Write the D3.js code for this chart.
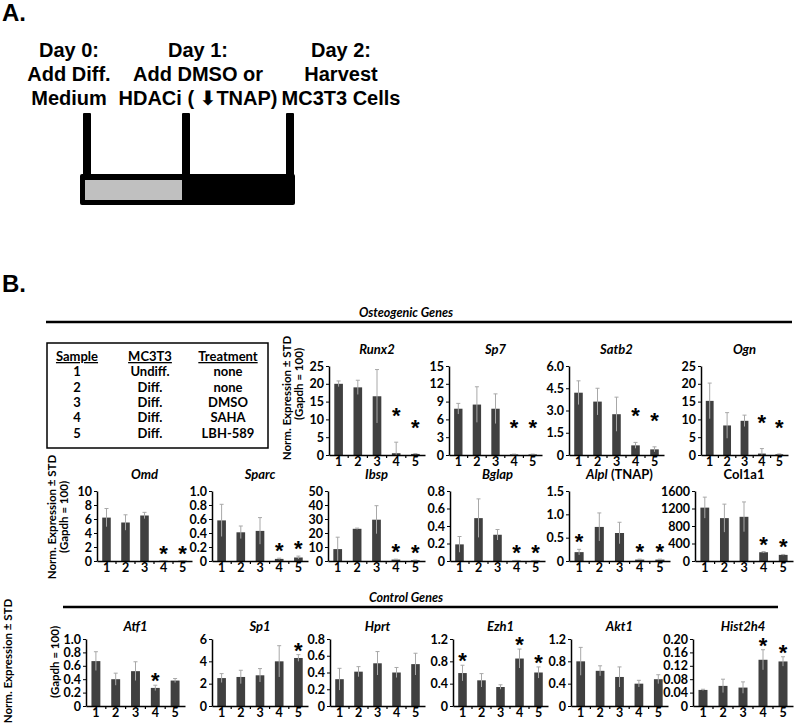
<!DOCTYPE html>
<html>
<head>
<meta charset="utf-8">
<script src="https://cdn.jsdelivr.net/npm/d3@7/dist/d3.min.js"></script>
<style>
  body { margin: 0; background: #fff; }
  text { font-family: Lato, "Open Sans", sans-serif; }
</style>
</head>
<body>
<div id="chart"></div>
<script>
// ---- data ----
const samples = ["1", "2", "3", "4", "5"];

const runx2 = [20, 19, 16.5, 0.5, 0.3],        runx2Sd = [0.8, 2, 7.5, 3.1, 0.1];
const sp7 = [7.8, 8.5, 7.8, 0.1, 0.1],         sp7Sd = [0.9, 3.0, 2.5, 0.05, 0.05];
const satb2 = [4.2, 3.6, 2.75, 0.65, 0.38],    satb2Sd = [0.8, 0.9, 1.15, 0.2, 0.17];
const ogn = [15.2, 8.3, 9.6, 0.4, 0.2],        ognSd = [5.0, 3.6, 1.6, 1.4, 0.1];
const omd = [6.2, 5.5, 6.5, 0.05, 0.05],       omdSd = [1.3, 1.1, 0.45, 0.02, 0.02];
const sparc = [0.58, 0.41, 0.43, 0.03, 0.05],  sparcSd = [0.23, 0.09, 0.19, 0.01, 0.02];
const ibsp = [8.5, 23, 29.5, 1.0, 0.5],        ibspSd = [8.5, 0.5, 10, 0.3, 0.2];
const bglap = [0.19, 0.49, 0.30, 0.005, 0.005], bglapSd = [0.09, 0.22, 0.06, 0.002, 0.002];
const alpl = [0.19, 0.73, 0.60, 0.03, 0.03],   alplSd = [0.06, 0.30, 0.23, 0.01, 0.01];
const col1a1 = [1220, 980, 1010, 200, 140],    col1a1Sd = [240, 320, 340, 15, 10];
const atf1 = [0.67, 0.40, 0.52, 0.27, 0.38],   atf1Sd = [0.14, 0.09, 0.14, 0.04, 0.03];
const sp1 = [2.5, 2.6, 2.75, 4.0, 4.3],        sp1Sd = [0.4, 0.6, 0.6, 1.4, 0.3];
const hprt = [0.32, 0.41, 0.51, 0.40, 0.50],   hprtSd = [0.13, 0.06, 0.14, 0.06, 0.13];
const ezh1 = [0.59, 0.46, 0.34, 0.85, 0.60],   ezh1Sd = [0.14, 0.12, 0.04, 0.17, 0.10];
const akt1 = [0.80, 0.63, 0.52, 0.40, 0.48],   akt1Sd = [0.25, 0.09, 0.18, 0.06, 0.08];
const hist2h4 = [0.048, 0.06, 0.055, 0.138, 0.133], hist2h4Sd = [0.002, 0.02, 0.017, 0.03, 0.014];

// y tick values per panel
const runx2Ticks = [0, 5, 10, 15, 20, 25];
const sp7Ticks = [0, 3, 6, 9, 12, 15];
const satb2Ticks = [0, 1.5, 3.0, 4.5, 6.0];
const ognTicks = [0, 5, 10, 15, 20, 25];
const omdTicks = [0, 2, 4, 6, 8, 10];
const sparcTicks = [0, 0.2, 0.4, 0.6, 0.8, 1.0];
const ibspTicks = [0, 10, 20, 30, 40, 50];
const bglapTicks = [0, 0.2, 0.4, 0.6, 0.8];
const alplTicks = [0, 0.5, 1.0, 1.5];
const col1a1Ticks = [0, 400, 800, 1200, 1600];
const atf1Ticks = [0, 0.2, 0.4, 0.6, 0.8, 1.0];
const sp1Ticks = [0, 2, 4, 6];
const hprtTicks = [0, 0.2, 0.4, 0.6, 0.8];
const ezh1Ticks = [0, 0.4, 0.8, 1.2];
const akt1Ticks = [0, 0.4, 0.8, 1.2];
const hist2h4Ticks = [0, 0.04, 0.08, 0.12, 0.16, 0.20];

// significant samples (index)
const runx2Stars = [3, 4], sp7Stars = [3, 4], satb2Stars = [3, 4], ognStars = [3, 4];
const omdStars = [3, 4], sparcStars = [3, 4], ibspStars = [3, 4], bglapStars = [3, 4];
const alplStars = [0, 3, 4], col1a1Stars = [3, 4];
const atf1Stars = [3], sp1Stars = [4], hprtStars = [], ezh1Stars = [0, 3, 4];
const akt1Stars = [], hist2h4Stars = [3, 4];

const tableHead = ["Sample", "MC3T3", "Treatment"];
const tableMC3T3 = ["Undiff.", "Diff.", "Diff.", "Diff.", "Diff."];
const tableTreatment = ["none", "none", "DMSO", "SAHA", "LBH-589"];

// ---- layout ----
const W = 800, H = 723;
const svg = d3.select("#chart").append("svg")
  .attr("width", W)
  .attr("height", H);

// rows of panels
const rows = [
  { top: 366, base: 455, titleY: 354, starOff: 31, labelX: [287, 299], labelY: [398, 384],
    panels: [
      { title: "Runx2", mean: runx2, sd: runx2Sd, ticks: runx2Ticks, stars: runx2Stars, x0: 329, x1: 425 },
      { title: "Sp7", mean: sp7, sd: sp7Sd, ticks: sp7Ticks, stars: sp7Stars, x0: 449, x1: 542 },
      { title: "Satb2", mean: satb2, sd: satb2Sd, ticks: satb2Ticks, stars: satb2Stars, x0: 569, x1: 664 },
      { title: "Ogn", mean: ogn, sd: ognSd, ticks: ognTicks, stars: ognStars, x0: 701, x1: 788 }
    ] },
  { top: 491, base: 561, titleY: 479, starOff: 12, labelX: [52, 64], labelY: [517, 517],
    panels: [
      { title: "Omd", mean: omd, sd: omdSd, ticks: omdTicks, stars: omdStars, x0: 97, x1: 192 },
      { title: "Sparc", mean: sparc, sd: sparcSd, ticks: sparcTicks, stars: sparcStars, x0: 212, x1: 308 },
      { title: "Ibsp", mean: ibsp, sd: ibspSd, ticks: ibspTicks, stars: ibspStars, x0: 328, x1: 425 },
      { title: "Bglap", mean: bglap, sd: bglapSd, ticks: bglapTicks, stars: bglapStars, x0: 450, x1: 545 },
      { title: "Alpl", extra: " (TNAP)", mean: alpl, sd: alplSd, ticks: alplTicks, stars: alplStars, x0: 569, x1: 670 },
      { title: "Col1a1", upright: true, mean: col1a1, sd: col1a1Sd, ticks: col1a1Ticks, stars: col1a1Stars, x0: 695, x1: 793 }
    ] },
  { top: 639, base: 706, titleY: 631, starOff: 9, labelX: [8, 55], labelY: [661, 662],
    panels: [
      { title: "Atf1", mean: atf1, sd: atf1Sd, ticks: atf1Ticks, stars: atf1Stars, x0: 86, x1: 185 },
      { title: "Sp1", mean: sp1, sd: sp1Sd, ticks: sp1Ticks, stars: sp1Stars, x0: 212, x1: 308 },
      { title: "Hprt", mean: hprt, sd: hprtSd, ticks: hprtTicks, stars: hprtStars, x0: 330, x1: 425 },
      { title: "Ezh1", mean: ezh1, sd: ezh1Sd, ticks: ezh1Ticks, stars: ezh1Stars, x0: 453, x1: 548 },
      { title: "Akt1", mean: akt1, sd: akt1Sd, ticks: akt1Ticks, stars: akt1Stars, x0: 571, x1: 668 },
      { title: "Hist2h4", mean: hist2h4, sd: hist2h4Sd, ticks: hist2h4Ticks, stars: hist2h4Stars, x0: 693, x1: 793 }
    ] }
];

// ---- panel A ----
const gA = svg.append("g");
gA.append("text").attr("x", 2).attr("y", 21)
  .style("font-family", "'Liberation Sans', Arial, sans-serif")
  .attr("font-size", 24).attr("font-weight", "bold").text("A.");

const dayCols = [
  { x: 69, lines: ["Day 0:", "Add Diff.", "Medium"] },
  { x: 198, lines: ["Day 1:", "Add DMSO or", null] },
  { x: 341, lines: ["Day 2:", "Harvest", "MC3T3 Cells"] }
];
const dayY = [57, 81, 105];
dayCols.forEach(c => {
  c.lines.forEach((l, i) => {
    const t = gA.append("text")
      .attr("x", c.x).attr("y", dayY[i])
      .attr("text-anchor", "middle")
      .style("font-family", "'Liberation Sans', Arial, sans-serif")
      .attr("font-size", 20).attr("font-weight", "bold");
    if (l) t.text(l);
    else {
      t.append("tspan").text("HDACi ( ");
      t.append("tspan").style("font-family", "'DejaVu Sans'").text("\u2B07");
      t.append("tspan").text("TNAP)");
    }
  });
});

// timeline box
gA.append("rect").attr("x", 80).attr("y", 174).attr("width", 215).attr("height", 31)
  .attr("rx", 2).attr("fill", "#000");
gA.append("rect").attr("x", 85).attr("y", 180).attr("width", 97).attr("height", 20)
  .attr("fill", "#c0c0c0");
[87, 186, 290].forEach(x => {
  gA.append("rect").attr("x", x - 4).attr("y", 113).attr("width", 8).attr("height", 64)
    .attr("rx", 1).attr("fill", "#000");
});

// ---- panel B ----
svg.append("text").attr("x", 2).attr("y", 292)
  .style("font-family", "'Liberation Sans', Arial, sans-serif")
  .attr("font-size", 24).attr("font-weight", "bold").text("B.");

function sectionHeader(label, y, x0, x1) {
  svg.append("line").attr("x1", x0).attr("x2", x1).attr("y1", y).attr("y2", y)
    .attr("stroke", "#000").attr("stroke-width", 2.5);
  svg.append("text").attr("x", 406).attr("y", y - 5).attr("text-anchor", "middle")
    .attr("font-size", 12.5).attr("font-weight", "bold").attr("font-style", "italic")
    .text(label);
}
sectionHeader("Osteogenic Genes", 322, 46, 792);
sectionHeader("Control Genes", 607, 63, 778);

// sample table
const tb = svg.append("g");
tb.append("rect").attr("x", 47).attr("y", 343).attr("width", 221).attr("height", 105)
  .attr("fill", "none").attr("stroke", "#000").attr("stroke-width", 1.5);
const colX = [77, 150, 228];
const rowY = [361, 376, 392, 407, 422, 438];
tableHead.forEach((h, i) => {
  tb.append("text").attr("x", colX[i]).attr("y", rowY[0]).attr("text-anchor", "middle")
    .attr("font-size", 13).attr("font-weight", "bold")
    .attr("text-decoration", "underline").text(h);
});
samples.forEach((s, i) => {
  [s, tableMC3T3[i], tableTreatment[i]].forEach((v, j) => {
    tb.append("text").attr("x", colX[j]).attr("y", rowY[i + 1]).attr("text-anchor", "middle")
      .attr("font-size", 13).attr("font-weight", "bold").text(v);
  });
});

// bar panels
function fmtFor(ticks) {
  const step = ticks[1] - ticks[0];
  const dec = step >= 1 && Number.isInteger(step) && ticks.every(Number.isInteger) ? 0
    : Math.max(1, Math.ceil(-Math.log10(step) - 1e-9));
  return v => v === 0 ? "0" : v.toFixed(dec);
}

rows.forEach(row => {
  // y axis label
  ["Norm. Expression \u00B1 STD", "(Gapdh = 100)"].forEach((t, i) => {
    svg.append("text")
      .attr("transform", `translate(${row.labelX[i] + 4},${row.labelY[i]}) rotate(-90)`)
      .attr("text-anchor", "middle")
      .attr("font-size", 11.5).attr("font-weight", "bold").text(t);
  });

  row.panels.forEach(p => {
    const g = svg.append("g");
    const x = d3.scaleBand().domain(samples).range([p.x0, p.x1])
      .paddingInner(0.55).paddingOuter(0.275);
    const y = d3.scaleLinear().domain([0, p.ticks[p.ticks.length - 1]]).range([row.base, row.top]);

    // bars
    g.selectAll("rect.bar").data(p.mean).join("rect")
      .attr("class", "bar")
      .attr("x", (d, i) => x(samples[i]))
      .attr("width", x.bandwidth())
      .attr("y", d => y(d))
      .attr("height", d => row.base - y(d))
      .attr("fill", "#404040");

    // error bars
    const eb = g.selectAll("g.err").data(p.mean).join("g").attr("class", "err")
      .attr("stroke", "#a8a8a8").attr("stroke-width", 1);
    eb.append("line")
      .attr("x1", (d, i) => x(samples[i]) + x.bandwidth() / 2)
      .attr("x2", (d, i) => x(samples[i]) + x.bandwidth() / 2)
      .attr("y1", (d, i) => y(Math.max(0, d - p.sd[i])))
      .attr("y2", (d, i) => y(d + p.sd[i]));
    eb.append("line")
      .attr("x1", (d, i) => x(samples[i]) + x.bandwidth() / 2 - 2)
      .attr("x2", (d, i) => x(samples[i]) + x.bandwidth() / 2 + 2)
      .attr("y1", (d, i) => y(d + p.sd[i]))
      .attr("y2", (d, i) => y(d + p.sd[i]));

    // stars
    g.selectAll("text.star").data(p.stars).join("text")
      .attr("class", "star")
      .attr("x", i => x(samples[i]) + x.bandwidth() / 2)
      .attr("y", i => y(p.mean[i] + p.sd[i]) - row.starOff + 12)
      .attr("text-anchor", "middle")
      .style("font-family", "'Liberation Sans', Arial, sans-serif")
      .attr("font-size", 22).attr("font-weight", "bold").text("*");

    // y axis
    const ya = g.append("g").attr("transform", `translate(${p.x0},0)`)
      .call(d3.axisLeft(y).tickValues(p.ticks).tickFormat(fmtFor(p.ticks))
        .tickSize(3).tickSizeOuter(0).tickPadding(2));
    ya.select(".domain").attr("stroke-width", 1.5);
    ya.selectAll("text").attr("font-size", 12.5).attr("font-weight", "bold")
      .style("font-family", "Lato, sans-serif").attr("fill", "#000");

    // x axis
    const xa = g.append("g").attr("transform", `translate(0,${row.base})`)
      .call(d3.axisBottom(x).tickSize(0).tickSizeOuter(0).tickPadding(2));
    xa.select(".domain").attr("stroke-width", 1.5);
    xa.selectAll("text").attr("font-size", 12.5).attr("font-weight", "bold")
      .style("font-family", "Lato, sans-serif").attr("fill", "#000");
    xa.selectAll("line.sep").data(samples.slice(1)).join("line")
      .attr("class", "sep")
      .attr("x1", d => x(d) - x.step() * 0.275)
      .attr("x2", d => x(d) - x.step() * 0.275)
      .attr("y1", 0).attr("y2", 3)
      .attr("stroke", "#000").attr("stroke-width", 1.2);

    // title
    const tt = g.append("text")
      .attr("x", (p.x0 + p.x1) / 2).attr("y", row.titleY)
      .attr("text-anchor", "middle")
      .attr("font-size", 13).attr("font-weight", "bold");
    tt.append("tspan").attr("font-style", p.upright ? "normal" : "italic").text(p.title);
    if (p.extra) tt.append("tspan").text(p.extra);
  });
});
</script>
</body>
</html>
